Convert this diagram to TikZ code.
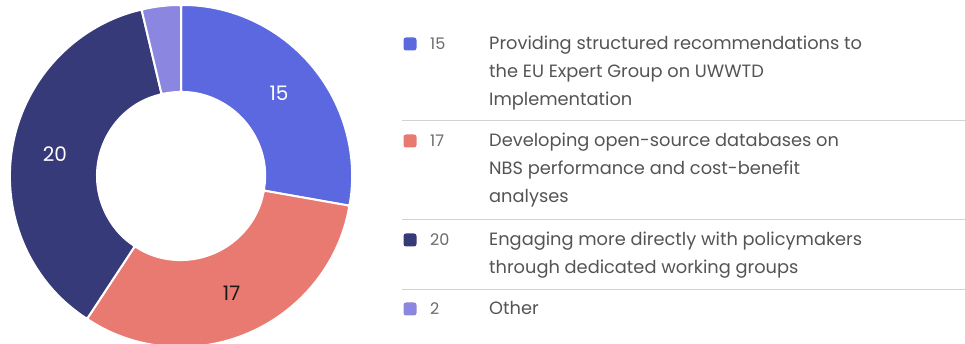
\documentclass[tikz,border=0pt]{standalone}
\usepackage{fontspec}
\setmainfont{Poppins}
\usetikzlibrary{positioning}
\definecolor{sliceblue}{HTML}{5C68DF}
\definecolor{slicered}{HTML}{E97A71}
\definecolor{slicenavy}{HTML}{363A79}
\definecolor{slicelav}{HTML}{8B87E1}
\definecolor{textgray}{HTML}{545454}
\definecolor{numgray}{HTML}{6A6A6A}
\definecolor{linegray}{HTML}{D2D2D2}
\tikzset{
  slice/.style={draw=white,line width=2pt,line join=round,rounded corners=2pt},
  value/.style={font=\fontsize{20}{24}\selectfont},
  swatch/.style={rectangle,rounded corners=2.5pt,minimum size=13pt,inner sep=0pt},
  count/.style={anchor=west,inner sep=0pt,text=numgray,font=\fontsize{16}{19}\selectfont},
  item/.style={anchor=north west,inner sep=0pt,align=left,text=textgray,font=\fontsize{17.8}{27.7}\selectfont},
  sepline/.style={draw=linegray,line width=0.8pt}
}

\begin{document}
\begin{tikzpicture}[x=1pt,y=1pt]
\useasboundingbox (0,0) rectangle (965,344);

% donut
\begin{scope}[shift={(181,168)}]
\fill [sliceblue,slice] (90:171) arc (90:-10:171) -- (-10:84) arc (-10:90:84) -- cycle;
\fill [slicered,slice] (-10:171) arc (-10:-123.33:171) -- (-123.33:84) arc (-123.33:-10:84) -- cycle;
\fill [slicenavy,slice] (-123.33:171) arc (-123.33:-256.67:171) -- (-256.67:84) arc (-256.67:-123.33:84) -- cycle;
\fill [slicelav,slice] (103.33:171) arc (103.33:90:171) -- (90:84) arc (90:103.33:84) -- cycle;

\node [value,white] (v15) at (40:128) {15};
\node [value,black!90] (v17) at (-66.7:128) {17};
\node [value,white] (v20) at (170:128) {20};
\end{scope}

% legend
\node [swatch,fill=sliceblue] (sw15) at (410,300) {};
\node [count,right=20pt,at=(sw15.center)] (n15) {15};
\node [item,at=(sw15.center),xshift=79pt,yshift=8pt] (t15) {Providing structured recommendations to\\the EU Expert Group on UWWTD\\Implementation};

\node [swatch,fill=slicered] (sw17) at (410,203) {};
\node [count,right=20pt,at=(sw17.center)] (n17) {17};
\node [item,at=(sw17.center),xshift=79pt,yshift=8pt] (t17) {Developing open-source databases on\\NBS performance and cost-benefit\\analyses};

\node [swatch,fill=slicenavy] (sw20) at (410,104) {};
\node [count,right=20pt,at=(sw20.center)] (n20) {20};
\node [item,at=(sw20.center),xshift=79pt,yshift=8pt] (t20) {Engaging more directly with policymakers\\through dedicated working groups};

\node [swatch,fill=slicelav] (sw2) at (410,35) {};
\node [count,right=20pt,at=(sw2.center)] (n2) {2};
\node [item,at=(sw2.center),xshift=79pt,yshift=8pt] (t2) {Other};

\draw [sepline] (402,224) -- (965,224);
\draw [sepline] (402,125) -- (965,125);
\draw [sepline] (402,55) -- (965,55);
\end{tikzpicture}
\end{document}
